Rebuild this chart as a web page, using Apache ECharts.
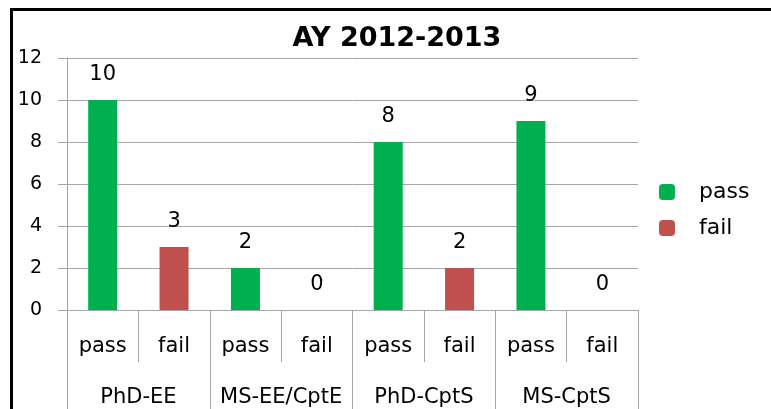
<!DOCTYPE html>
<html>
<head>
<meta charset="utf-8">
<script src="https://cdn.jsdelivr.net/npm/echarts@6/dist/echarts.min.js"></script>
<style>
html, body { margin: 0; padding: 0; background: #fff; }
#result { width: 771px; height: 409px; }
</style>
</head>
<body>
<div id="result"></div>
<script>
var categories = ['pass', 'fail', 'pass', 'fail', 'pass', 'fail', 'pass', 'fail'];
var groups = ['PhD-EE', 'MS-EE/CptE', 'PhD-CptS', 'MS-CptS'];
var passValues = [10, null, 2, null, 8, null, 9, null];
var failValues = [null, 3, null, 0, null, 2, null, 0];
var yTicks = [0, 2, 4, 6, 8, 10, 12];

var font = '"DejaVu Sans", sans-serif';
var gray = '#a6a6a6';

var myChart = echarts.init(document.getElementById('result'));

var option = {
	animation: false,
	textStyle: {
		fontFamily: font
	},
	title: {
		text: 'AY 2012-2013',
		left: 392,
		top: 20,
		textAlign: 'center',
		textStyle: {
			fontFamily: font,
			fontSize: 27,
			fontWeight: 'bold',
			color: '#000'
		}
	},
	legend: {
		orient: 'vertical',
		left: 654,
		top: 176,
		itemWidth: 16,
		itemHeight: 16,
		itemGap: 14,
		icon: 'roundRect',
		textStyle: {
			fontFamily: font,
			fontSize: 22,
			color: '#000',
			padding: [0, 0, 0, 19]
		},
		data: ['pass', 'fail']
	},
	grid: {
		left: 67,
		right: 133,
		top: 58,
		bottom: 99
	},
	xAxis: [{
			type: 'category',
			data: categories,
			axisLine: { lineStyle: { color: gray } },
			axisTick: {
				show: true,
				length: 52,
				interval: 0,
				lineStyle: { color: gray }
			},
			axisLabel: {
				interval: 0,
				margin: 26,
				fontSize: 21,
				color: '#000',
				fontFamily: font
			}
		},
		{
			type: 'category',
			data: groups,
			position: 'bottom',
			axisLine: { lineStyle: { color: gray } },
			axisTick: {
				show: true,
				length: 100,
				interval: 0,
				lineStyle: { color: gray }
			},
			axisLabel: {
				interval: 0,
				margin: 77,
				fontSize: 21,
				color: '#000',
				fontFamily: font
			}
		}
	],
	yAxis: {
		type: 'value',
		min: yTicks[0],
		max: yTicks[yTicks.length - 1],
		interval: 2,
		axisLine: { show: true, lineStyle: { color: gray } },
		axisTick: { show: true, length: 9, lineStyle: { color: gray } },
		splitLine: { lineStyle: { color: gray } },
		axisLabel: {
			margin: 25,
			fontSize: 19,
			color: '#000',
			fontFamily: font
		}
	},
	series: [{
			name: 'pass',
			type: 'bar',
			xAxisIndex: 0,
			data: passValues,
			barWidth: 29,
			barGap: '-100%',
			itemStyle: { color: '#00b050' },
			label: {
				show: true,
				position: 'top',
				distance: 15,
				fontSize: 21,
				color: '#000',
				fontFamily: font
			}
		},
		{
			name: 'fail',
			type: 'bar',
			xAxisIndex: 0,
			data: failValues,
			barWidth: 29,
			barGap: '-100%',
			itemStyle: { color: '#c0504d' },
			label: {
				show: true,
				position: 'top',
				distance: 15,
				fontSize: 21,
				color: '#000',
				fontFamily: font
			}
		}
	],
	graphic: [{
			type: 'rect',
			shape: { x: 10, y: 8, width: 800, height: 3 },
			style: { fill: '#000' }
		},
		{
			type: 'rect',
			shape: { x: 10, y: 8, width: 3, height: 410 },
			style: { fill: '#000' }
		}
	]
};

myChart.setOption(option);
</script>
</body>
</html>
